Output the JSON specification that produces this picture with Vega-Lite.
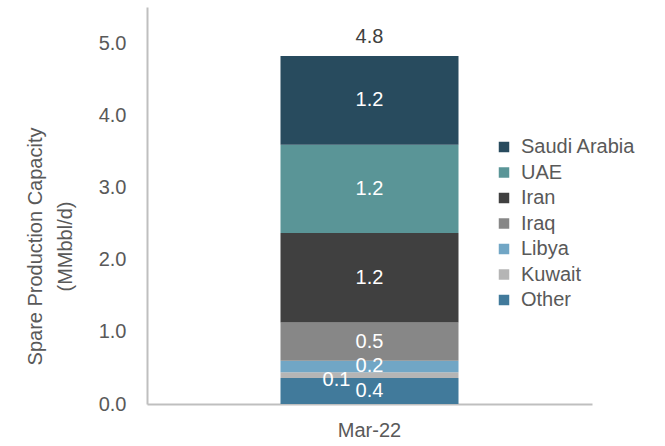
{
  "$schema": "https://vega.github.io/schema/vega-lite/v6.json",
  "autosize": {"type": "none"},
  "width": 445,
  "height": 397,
  "padding": {"left": 147, "top": 7, "right": 73, "bottom": 42},
  "background": "white",
  "config": {
    "view": {"stroke": null},
    "font": "Liberation Sans",
    "text": {"font": "Liberation Sans"}
  },
  "data": {
    "values": [
      {"month": "Mar-22", "country": "Other", "value": 0.36, "rank": 1},
      {"month": "Mar-22", "country": "Kuwait", "value": 0.08, "rank": 2},
      {"month": "Mar-22", "country": "Libya", "value": 0.16, "rank": 3},
      {"month": "Mar-22", "country": "Iraq", "value": 0.53, "rank": 4},
      {"month": "Mar-22", "country": "Iran", "value": 1.24, "rank": 5},
      {"month": "Mar-22", "country": "UAE", "value": 1.22, "rank": 6},
      {"month": "Mar-22", "country": "Saudi Arabia", "value": 1.23, "rank": 7}
    ]
  },
  "encoding": {
    "x": {
      "field": "month",
      "type": "nominal",
      "title": null,
      "axis": {
        "labelAngle": 0,
        "labelFont": "Liberation Sans",
        "labelFontSize": 20,
        "labelColor": "#595959",
        "labelPadding": 16,
        "ticks": false,
        "domainColor": "#bfbfbf",
        "domainWidth": 2
      }
    }
  },
  "layer": [
    {
      "mark": {"type": "bar", "size": 178},
      "encoding": {
        "y": {
          "field": "value",
          "type": "quantitative",
          "stack": "zero",
          "scale": {"domain": [0, 5.5], "nice": false},
          "title": ["Spare Production Capacity", "(MMbbl/d)"],
          "axis": {
            "values": [0, 1, 2, 3, 4, 5],
            "format": ".1f",
            "grid": false,
            "ticks": false,
            "labelFont": "Liberation Sans",
            "labelFontSize": 20,
            "labelColor": "#595959",
            "labelPadding": 21,
            "domainColor": "#bfbfbf",
            "domainWidth": 2,
            "titleFont": "Liberation Sans",
            "titleFontSize": 20,
            "titleFontWeight": "normal",
            "titleColor": "#595959",
            "titleLineHeight": 30,
            "titleAngle": -90,
            "titleAlign": "center",
            "titleBaseline": "top",
            "titleX": -122,
            "titleY": 239
          }
        },
        "color": {
          "field": "country",
          "type": "nominal",
          "scale": {
            "domain": ["Saudi Arabia", "UAE", "Iran", "Iraq", "Libya", "Kuwait", "Other"],
            "range": ["#284b5e", "#5a9597", "#404040", "#878787", "#71a6c5", "#b5b5b5", "#417a9b"]
          },
          "legend": {
            "title": null,
            "orient": "none",
            "legendX": 347,
            "legendY": 130,
            "symbolType": "square",
            "symbolSize": 110,
            "symbolStrokeWidth": 0,
            "labelFont": "Liberation Sans",
            "labelFontSize": 20,
            "labelColor": "#595959",
            "labelOffset": 7,
            "rowPadding": 5.5
          }
        },
        "order": {"field": "rank", "type": "quantitative", "sort": "ascending"}
      }
    },
    {
      "mark": {"type": "text", "color": "white", "fontSize": 20, "baseline": "middle", "font": "Liberation Sans"},
      "encoding": {
        "y": {"field": "value", "type": "quantitative", "stack": "zero", "bandPosition": 0.5},
        "text": {
          "condition": {"test": "datum.country === 'Kuwait'", "value": ""},
          "field": "value",
          "type": "quantitative",
          "format": ".1f"
        },
        "detail": {"field": "country", "type": "nominal"},
        "order": {"field": "rank", "type": "quantitative", "sort": "ascending"}
      }
    },
    {
      "transform": [
        {"stack": "value", "groupby": ["month"], "sort": [{"field": "rank", "order": "ascending"}], "as": ["lo", "hi"]},
        {"filter": "datum.country === 'Kuwait'"}
      ],
      "mark": {"type": "text", "color": "white", "fontSize": 20, "baseline": "middle", "dx": -33, "dy": 2, "font": "Liberation Sans"},
      "encoding": {
        "y": {"field": "lo", "type": "quantitative"},
        "text": {"field": "value", "type": "quantitative", "format": ".1f"}
      }
    },
    {
      "transform": [
        {"aggregate": [{"op": "sum", "field": "value", "as": "total"}], "groupby": ["month"]}
      ],
      "mark": {"type": "text", "color": "#404040", "fontSize": 20, "baseline": "bottom", "dy": -9, "font": "Liberation Sans"},
      "encoding": {
        "y": {"field": "total", "type": "quantitative"},
        "text": {"field": "total", "type": "quantitative", "format": ".1f"}
      }
    }
  ]
}
